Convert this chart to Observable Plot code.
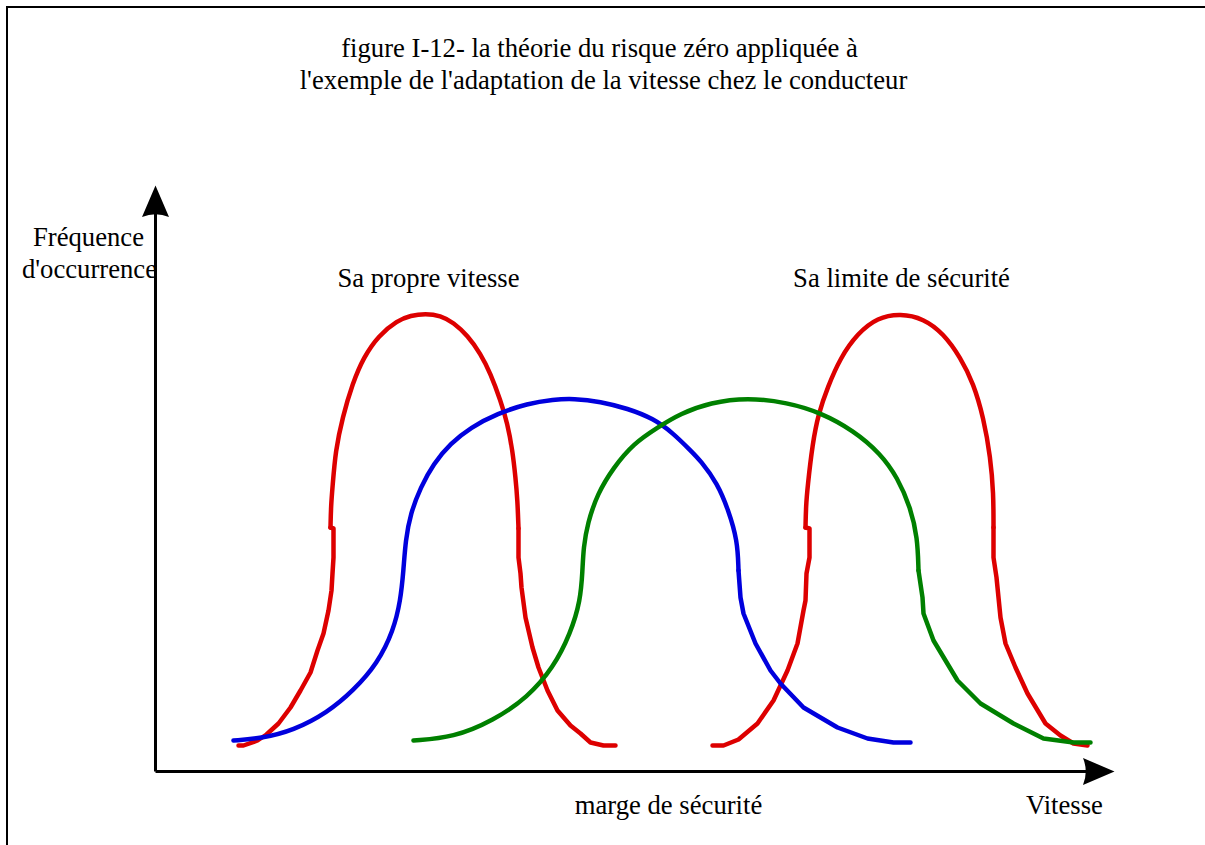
<!DOCTYPE html>
<html>
<head>
<meta charset="utf-8">
<script src="https://cdn.jsdelivr.net/npm/d3@7"></script>
<script src="https://cdn.jsdelivr.net/npm/@observablehq/plot@0.6"></script>
<style>
  html, body { margin: 0; padding: 0; background: #fff; }
  #wrap { position: relative; width: 1205px; height: 845px; overflow: hidden; }
  #frame { position: absolute; left: 6px; top: 6px; width: 1300px; height: 900px;
           border-top: 2px solid #000; border-left: 2px solid #000; pointer-events: none; }
  svg { display: block; overflow: visible; }
  svg text { font-family: "Liberation Serif", "Times New Roman", serif !important; }
</style>
</head>
<body>
<div id="wrap"><div id="frame"></div></div>
<script>
// Curves are [x, y] pairs in chart units: origin at the axes' corner.
// Each curve is kept as its hand-drawn pieces: straight-segment tails and a smooth dome.

// "Sa propre vitesse" (red, left)
const ownSpeedRise = [
  [83,26],[88,26],[102,31],[111,37],[123,48],[135,64],[145,81],[155,99],[162,121],[168,138],
  [173,161],[176,181],[177,198],[178,214],[178,243],[175,244]
];
const ownSpeedDome = [
  [175,244],[175.5,266],[177,284],[180,321],[187,354],[197,388],[208,414],[223,436],[242,451],
  [255,456],[270,458],[285,456],[298,449],[312,436],[325,418],[335,398],[345,371],[352,348],
  [357,321],[360,294],[362,271],[363,243]
];
const ownSpeedFall = [
  [363,243],[363,214],[365,198],[366,184],[370,154],[377,124],[383,104],[392,81],[402,61],
  [415,46],[425,38],[435,29],[448,26],[460,26]
];

// Safety margin (blue)
const blueDome = [
  [78,31],[105,33],[138,41],[172,59],[198,81],[222,108],[238,141],[245,171],[248,201],
  [250,231],[255,258],[265,284],[278,308],[295,328],[315,344],[342,358],[372,368],[398,372],
  [418,373],[445,370],[472,363],[498,353],[518,338],[535,321],[545,311],[562,288],[573,261],
  [582,231],[583,201]
];
const blueFall = [
  [583,201],[585,174],[588,158],[600,128],[615,101],[625,88],[648,64],[682,44],[712,33],
  [738,29],[755,29]
];

// Safety margin (green)
const greenDome = [
  [258,31],[298,34],[338,51],[372,74],[398,104],[415,138],[425,171],[427,201],[428,224],
  [432,248],[442,278],[458,304],[478,328],[502,344],[525,358],[555,369],[592,374],[632,369],
  [665,359],[698,341],[725,318],[742,294],[755,264],[762,234],[763,201]
];
const greenFall = [
  [763,201],[767,174],[768,158],[778,131],[802,91],[825,68],[858,48],[888,33],[918,29],[935,29]
];

// "Sa limite de sécurité" (red, right)
const limitRise = [
  [557,26],[568,26],[583,32],[602,48],[618,71],[632,101],[642,128],[648,161],[650,171],
  [651,198],[654,214],[654,243],[650,244]
];
const limitDome = [
  [650,244],[650.5,266],[652,284],[657,328],[663,358],[672,384],[685,414],[702,438],[722,454],
  [745,458],[768,453],[788,438],[805,414],[818,388],[828,354],[835,314],[838,278],[838,244]
];
const limitFall = [
  [838,244],[838,214],[841,194],[845,154],[850,128],[860,104],[872,78],[890,48],[905,36],
  [918,28],[932,26]
];

// Axis shafts and arrow tips
const yAxisShaft = [[0,0],[0,560]];
const xAxisShaft = [[0,0],[934,0]];
const arrowTips = [
  {x: 0, y: 586, rotate: 0},
  {x: 959, y: 0, rotate: 90}
];

// Text labels
const titleLines = [
  {x: 444, y: 715, text: "figure I-12- la théorie du risque zéro appliquée à"},
  {x: 448, y: 683, text: "l'exemple de l'adaptation de la vitesse chez le conducteur"}
];
const yLabelLines = [
  {x: -67, y: 526, text: "Fréquence"},
  {x: -66, y: 494, text: "d'occurrence"}
];
const curveLabels = [
  {x: 273, y: 485, text: "Sa propre vitesse"},
  {x: 746, y: 485, text: "Sa limite de sécurité"}
];
const xLabels = [
  {x: 513, y: -42, text: "marge de sécurité"},
  {x: 909, y: -42, text: "Vitesse"}
];

// Filled arrowhead with a slightly concave base, tip at the anchor, pointing up
const arrowHead = {
  draw(ctx, size) {
    const r = Math.sqrt(size / Math.PI);
    const L = 3.15 * r, W = 1.35 * r;
    ctx.moveTo(0, 0);
    ctx.lineTo(W, L);
    ctx.quadraticCurveTo(0, L - 0.55 * r, -W, L);
    ctx.closePath();
  }
};

const font = "'Liberation Serif', 'Times New Roman', serif";
const fs = 26.67;
const textOpts = {x: "x", y: "y", text: "text", fontSize: fs, fontFamily: font, lineAnchor: "bottom", fill: "#000"};
const RED = "#dd0000", BLUE = "#0000dd", GREEN = "#008000";

// smooth pieces use a B-spline, tails keep their straight segments
const piece = (data, stroke, smooth) =>
  Plot.line(data, {x: d => d[0], y: d => d[1], stroke, strokeWidth: 4.5,
                   curve: smooth ? "basis" : "linear", strokeLinejoin: "round", strokeLinecap: "round"});

const chart = Plot.plot({
  width: 1205,
  height: 845,
  marginLeft: 155,
  marginRight: 90,
  marginTop: 181,
  marginBottom: 74,
  x: {domain: [0, 960], axis: null},
  y: {domain: [0, 590], axis: null},
  style: {fontFamily: font, background: "transparent", overflow: "visible"},
  marks: [
    Plot.line(yAxisShaft, {x: d => d[0], y: d => d[1], stroke: "#000", strokeWidth: 3, strokeLinecap: "butt"}),
    Plot.line(xAxisShaft, {x: d => d[0], y: d => d[1], stroke: "#000", strokeWidth: 3, strokeLinecap: "butt"}),
    Plot.dot(arrowTips, {x: "x", y: "y", rotate: "rotate", symbol: arrowHead, r: 10, fill: "#000", stroke: "none"}),
    piece(ownSpeedRise, RED, false),
    piece(ownSpeedDome, RED, true),
    piece(ownSpeedFall, RED, false),
    piece(limitRise, RED, false),
    piece(limitDome, RED, true),
    piece(limitFall, RED, false),
    piece(blueDome, BLUE, true),
    piece(blueFall, BLUE, false),
    piece(greenDome, GREEN, true),
    piece(greenFall, GREEN, false),
    Plot.text(titleLines, textOpts),
    Plot.text(yLabelLines, textOpts),
    Plot.text(curveLabels, textOpts),
    Plot.text(xLabels, textOpts)
  ]
});

const wrap = document.getElementById("wrap");
wrap.insertBefore(chart, wrap.firstChild);
</script>
</body>
</html>
